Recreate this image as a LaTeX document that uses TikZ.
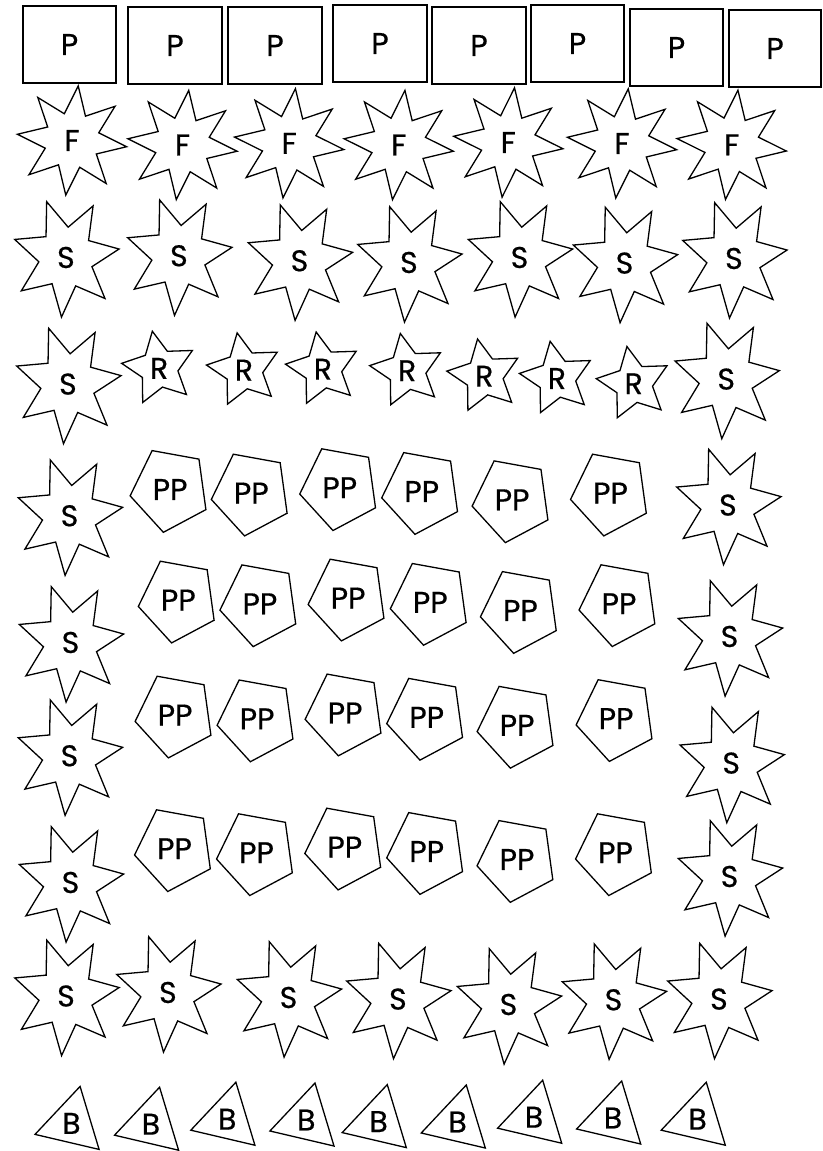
\documentclass[tikz,border=0pt]{standalone}
\usepackage{fontspec}
\setmainfont{Poppins}
\newfontfamily\mylblfam[FakeBold=0.5]{Poppins}
\newcommand\lblfont{\mylblfam\fontsize{30}{36}\selectfont}
\tikzset{
  shp/.style={draw=black, line width=1.3pt, line join=miter},
  lbl/.style={font=\lblfont, inner sep=0pt},
  pbox/.style={draw=black, line width=2pt, minimum width=93pt, minimum height=77pt, inner sep=0pt, font=\lblfont}
}
% #1 cx, #2 cy (image px, y down), #3 vertices, #4 outer r, #5 inner r, #6 start angle, #7 yscale
\newcommand\mypoly[7]{%
  \pgfmathtruncatemacro\mynlast{#3-1}%
  \draw[shp, shift={(#1,-#2)}, yscale=#7] (#6:#4)
    \foreach \k in {1,...,\mynlast} {-- ({#6+\k*360/#3}:{mod(\k,2)==0 ? #4 : #5})} -- cycle;}
\newcommand\myF[3]{\mypoly{#2}{#3}{16}{55}{27.8}{83.5}{1}\node[lbl] (#1) at (#2,-#3) {F};}
\newcommand\myS[3]{\mypoly{#2}{#3}{14}{53.7}{27.3}{111}{1.114}\node[lbl] (#1) at (#2,-#3) {S};}
\newcommand\myR[3]{\mypoly{#2}{#3}{10}{37.8}{19}{100.3}{1}\node[lbl] (#1) at (#2,-#3) {R};}
\newcommand\myPP[3]{\mypoly{#2}{#3}{5}{40.4}{40.4}{44.4}{1.075}\node[lbl] (#1) at (#2,-#3) {PP};}
\newcommand\myB[3]{\mypoly{#2}{#3}{3}{38}{38}{76.8}{1}\node[lbl] (#1) at (#2,-#3) {B};}
\begin{document}
\begin{tikzpicture}[x=1pt,y=1pt]
\useasboundingbox (0,0) rectangle (822,-1151);
% row 1: P boxes
\node[pbox] (p1) at (69.5,-44.5) {P};
\node[pbox, minimum width=94pt] (p2) at (175,-45.5) {P};
\node[pbox, minimum width=94pt] (p3) at (275,-45.5) {P};
\node[pbox, minimum width=94pt] (p4) at (380,-43.5) {P};
\node[pbox, minimum width=94pt] (p5) at (479,-45.5) {P};
\node[pbox] (p6) at (577.5,-43.5) {P};
\node[pbox] (p7) at (676.5,-47.5) {P};
\node[pbox, minimum width=92pt] (p8) at (775,-48.5) {P};
% row 2: F stars
\myF{f1}{72}{140.5}
\myF{f2}{182.5}{145}
\myF{f3}{289.2}{143.3}
\myF{f4}{398.7}{145}
\myF{f5}{508.3}{142.5}
\myF{f6}{622}{143.5}
\myF{f7}{731.7}{144.8}
% row 3: S stars
\myS{s31}{65.9}{257.5}
\myS{s32}{178.9}{255.8}
\myS{s33}{299.5}{260.8}
\myS{s34}{408.9}{262.5}
\myS{s35}{519.5}{257.5}
\myS{s36}{624.5}{263.1}
\myS{s37}{733.9}{258.5}
% row 4
\myS{s41}{67.9}{384.1}
\myR{r1}{159.1}{368.4}
\myR{r2}{243.9}{370.1}
\myR{r3}{322.9}{369.2}
\myR{r4}{407.1}{370.7}
\myR{r5}{484.3}{376.2}
\myR{r6}{556.9}{378.5}
\myR{r7}{633.7}{383.7}
\myS{s42}{726.2}{379.1}
% row 5
\myS{s51}{69.5}{515.8}
\myPP{pp51}{170.1}{489.5}
\myPP{pp52}{251.3}{493.1}
\myPP{pp53}{339.7}{487.7}
\myPP{pp54}{421.7}{491.5}
\myPP{pp55}{512.1}{499.8}
\myPP{pp56}{610.5}{493.1}
\myS{s52}{727.9}{505.1}
% row 6
\myS{s61}{70.5}{642.5}
\myPP{pp61}{178.3}{600.1}
\myPP{pp62}{259.9}{603.8}
\myPP{pp63}{348.1}{598.1}
\myPP{pp64}{430.3}{602.4}
\myPP{pp65}{520.4}{610.5}
\myPP{pp66}{619}{603.7}
\myS{s62}{729.5}{636.5}
% row 7
\myS{s71}{69.5}{755.8}
\myPP{pp71}{175.1}{715.1}
\myPP{pp72}{257.1}{718.9}
\myPP{pp73}{345.1}{713}
\myPP{pp74}{426.7}{717.3}
\myPP{pp75}{517.1}{725.3}
\myPP{pp76}{616.1}{718.6}
\myS{s72}{731.2}{763.1}
% row 8
\myS{s81}{70.5}{882.5}
\myPP{pp81}{174.5}{848.7}
\myPP{pp82}{256.5}{852.7}
\myPP{pp83}{344.8}{847.1}
\myPP{pp84}{426.7}{851.5}
\myPP{pp85}{517}{859.5}
\myPP{pp86}{615.5}{852.7}
\myS{s82}{729.5}{876.5}
% row 9
\myS{s91}{66}{996}
\myS{s92}{167.9}{992.5}
\myS{s93}{288.5}{997.5}
\myS{s94}{397.9}{999.1}
\myS{s95}{508.5}{1004.5}
\myS{s96}{613.5}{999.8}
\myS{s97}{718.9}{999.1}
% row 10: B triangles
\myB{b1}{71.4}{1123.4}
\myB{b2}{150.9}{1124.2}
\myB{b3}{227.2}{1119.2}
\myB{b4}{306.3}{1120}
\myB{b5}{378.6}{1121.6}
\myB{b6}{457.6}{1122}
\myB{b7}{534}{1117.2}
\myB{b8}{613}{1118}
\myB{b9}{697.6}{1119.2}
\end{tikzpicture}
\end{document}
